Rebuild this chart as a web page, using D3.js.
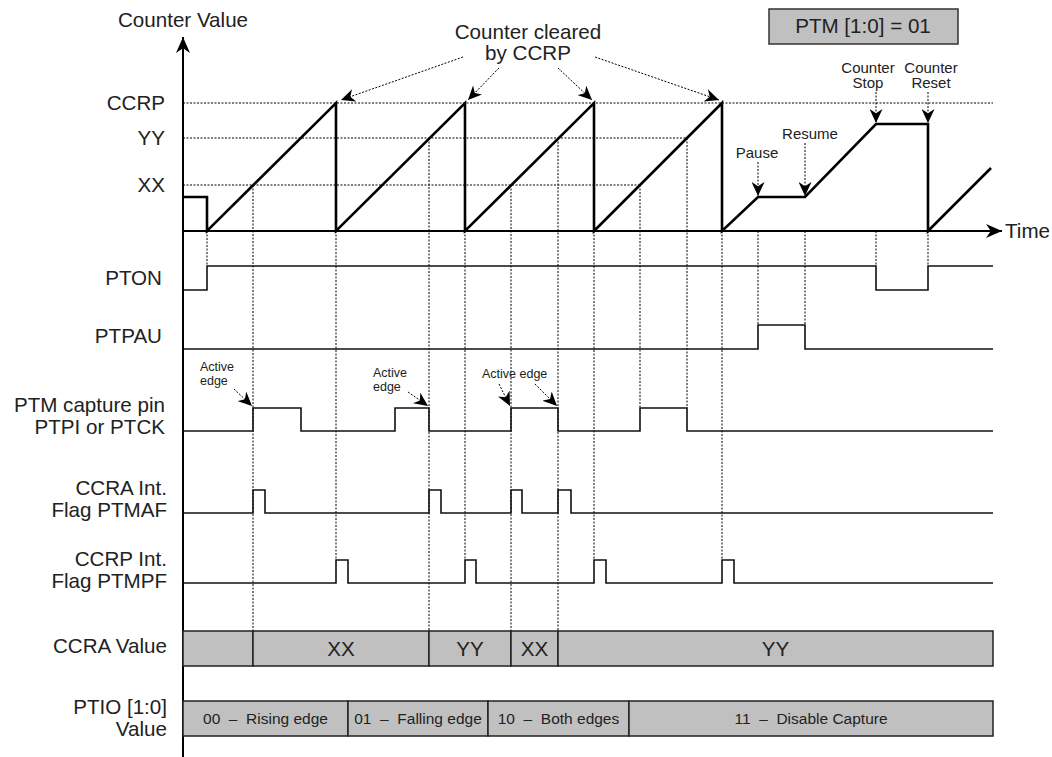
<!DOCTYPE html>
<html>
<head>
<meta charset="utf-8">
<script src="https://cdn.jsdelivr.net/npm/d3@7"></script>
<style>
  body { margin: 0; background: #fff; }
  text { font-family: "Liberation Sans", Arial, sans-serif; fill: #222; }
</style>
</head>
<body>
<script>
(function () {
    // Counter value over time: [time, count]
    var counterPoints = [[0, 34], [24, 34], [24, 0], [153, 128], [153, 0], [282, 128], [282, 0],
        [411, 128], [411, 0], [539, 128], [539, 0], [575, 34], [622, 34], [693, 107], [745, 107],
        [745, 0], [808, 63]];

    // Reference levels on the counter axis
    var levelNames = ['CCRP', 'YY', 'XX'];
    var levelValues = [128, 93, 46];
    var levelEnds = [810, 504, 457]; // time where each dotted level line stops

    // Digital signals as [time, level] steps
    var ptonSteps = [[0, 0], [24, 1], [693, 0], [745, 1], [810, 1]];
    var ptpauSteps = [[0, 0], [575, 1], [622, 0], [810, 0]];
    var captureSteps = [[0, 0], [70, 1], [118, 0], [212, 1], [246, 0], [328, 1], [375, 0],
        [457, 1], [504, 0], [810, 0]];
    var ptmafSteps = [[0, 0], [70, 1], [82, 0], [246, 1], [258, 0], [328, 1], [339, 0],
        [375, 1], [388, 0], [810, 0]];
    var ptmpfSteps = [[0, 0], [153, 1], [165, 0], [282, 1], [293, 0], [411, 1], [423, 0],
        [539, 1], [551, 0], [810, 0]];

    // Bus values
    var ccraEdges = [0, 70, 246, 328, 375, 810];
    var ccraLabels = ['', 'XX', 'YY', 'XX', 'YY'];
    var ptioEdges = [0, 165, 305, 446, 810];
    var ptioLabels = ['00  \u2013  Rising edge', '01  \u2013  Falling edge',
        '10  \u2013  Both edges', '11  \u2013  Disable Capture'];

    // Times where the counter is cleared by CCRP
    var clearTimes = [153, 282, 411, 539];

    // Dotted guide lines: time, counter value they start from, row they go down to
    var guideTimes = [24, 70, 153, 246, 282, 328, 375, 411, 457, 504, 539, 575, 622, 693, 745];
    var guideFrom = [0, 46, 0, 93, 0, 46, 93, 0, 46, 93, 0, 0, 0, 0, 0];
    var guideTo = ['pton', 'ccra', 'ptmpf', 'ccra', 'ptmpf', 'ccra', 'ccra', 'ptmpf',
        'capture', 'capture', 'ptmpf', 'ptpau', 'ptpau', 'pton', 'pton'];

    // Counter events
    var eventTimes = [575, 622, 693, 745];
    var eventValues = [34, 34, 107, 107];
    var eventLabels = [['Pause'], ['Resume'], ['Counter', 'Stop'], ['Counter', 'Reset']];

    // Layout
    var width = 1052, height = 757;
    var rows = {
        pton: { hi: 266, lo: 290 },
        ptpau: { hi: 325, lo: 349 },
        capture: { hi: 408, lo: 431 },
        ptmaf: { hi: 490, lo: 513 },
        ptmpf: { hi: 560, lo: 583 },
        ccra: { hi: 631, lo: 666 },
        ptio: { hi: 701, lo: 736 }
    };
    var bigFont = 20.6;

    var x = d3.scaleLinear().domain([0, 810]).range([183, 993]);
    var yCount = d3.scaleLinear().domain([0, 128]).range([231, 103]);

    var svg = d3.select('body').append('svg')
        .attr('width', width)
        .attr('height', height);

    // Arrow heads
    var defs = svg.append('defs');
    function addMarker(id, len, half) {
        defs.append('marker')
            .attr('id', id)
            .attr('viewBox', (-len) + ' ' + (-half) + ' ' + len + ' ' + (half * 2))
            .attr('refX', 0).attr('refY', 0)
            .attr('markerWidth', len).attr('markerHeight', half * 2)
            .attr('markerUnits', 'userSpaceOnUse')
            .attr('orient', 'auto')
            .append('path')
            .attr('d', 'M0,0 L' + (-len) + ',' + (-half) + ' L' + (-len * 0.7) + ',0 L' + (-len) + ',' + half + ' Z')
            .attr('fill', '#000');
    }
    addMarker('bigArrow', 16, 7);
    addMarker('arrow', 14, 6.5);

    var dotted = '2,1.5';

    // Horizontal level lines + labels
    levelValues.forEach(function (v, i) {
        svg.append('line')
            .attr('x1', x(0)).attr('x2', x(levelEnds[i]))
            .attr('y1', yCount(v)).attr('y2', yCount(v))
            .attr('stroke', '#000').attr('stroke-width', 1)
            .attr('stroke-dasharray', dotted);
        svg.append('text')
            .attr('x', 165).attr('y', yCount(v) + 7)
            .attr('text-anchor', 'end')
            .style('font-size', bigFont + 'px')
            .text(levelNames[i]);
    });

    // Vertical guides
    guideTimes.forEach(function (t, i) {
        svg.append('line')
            .attr('x1', x(t)).attr('x2', x(t))
            .attr('y1', yCount(guideFrom[i])).attr('y2', rows[guideTo[i]].hi)
            .attr('stroke', '#000').attr('stroke-width', 1)
            .attr('stroke-dasharray', dotted);
    });

    // Axes
    svg.append('line')
        .attr('x1', x(0)).attr('x2', x(0))
        .attr('y1', height).attr('y2', 37)
        .attr('stroke', '#000').attr('stroke-width', 2)
        .attr('marker-end', 'url(#bigArrow)');
    svg.append('line')
        .attr('x1', x(0)).attr('x2', 1002)
        .attr('y1', yCount(0)).attr('y2', yCount(0))
        .attr('stroke', '#000').attr('stroke-width', 2)
        .attr('marker-end', 'url(#bigArrow)');
    svg.append('text')
        .attr('x', x(0)).attr('y', 27)
        .attr('text-anchor', 'middle')
        .style('font-size', bigFont + 'px')
        .text('Counter Value');
    svg.append('text')
        .attr('x', 1005).attr('y', 238)
        .style('font-size', bigFont + 'px')
        .text('Time');

    // Counter waveform
    var counterLine = d3.line()
        .x(function (d) { return x(d[0]); })
        .y(function (d) { return yCount(d[1]); });
    svg.append('path')
        .datum(counterPoints)
        .attr('d', counterLine)
        .attr('fill', 'none')
        .attr('stroke', '#000')
        .attr('stroke-width', 2.6)
        .attr('stroke-linejoin', 'miter');

    // "Counter cleared by CCRP" annotation
    var clearText = svg.append('text')
        .attr('text-anchor', 'middle')
        .style('font-size', bigFont + 'px');
    clearText.append('tspan').attr('x', 528).attr('y', 39).text('Counter cleared');
    clearText.append('tspan').attr('x', 528).attr('y', 60).text('by CCRP');
    var clearStarts = [[463, 57], [499, 68], [558, 68], [595, 57]];
    var clearOffsets = [5, 3, -2, -3];
    clearTimes.forEach(function (t, i) {
        svg.append('line')
            .attr('x1', clearStarts[i][0]).attr('y1', clearStarts[i][1])
            .attr('x2', x(t) + clearOffsets[i]).attr('y2', yCount(128) - 3)
            .attr('stroke', '#000').attr('stroke-width', 1)
            .attr('stroke-dasharray', dotted)
            .attr('marker-end', 'url(#arrow)');
    });

    // Pause / Resume / Stop / Reset annotations
    var eventTextX = [757, 810, 868, 931];
    var eventTextY = [158, 139, 73, 73];
    eventTimes.forEach(function (t, i) {
        var lines = eventLabels[i];
        var txt = svg.append('text')
            .attr('text-anchor', 'middle')
            .style('font-size', '15px');
        lines.forEach(function (l, j) {
            txt.append('tspan')
                .attr('x', eventTextX[i])
                .attr('y', eventTextY[i] + j * 15)
                .text(l);
        });
        var top = eventTextY[i] + (lines.length - 1) * 15 + 4;
        svg.append('line')
            .attr('x1', x(t)).attr('x2', x(t))
            .attr('y1', top).attr('y2', yCount(eventValues[i]) - 1)
            .attr('stroke', '#000').attr('stroke-width', 1)
            .attr('stroke-dasharray', dotted)
            .attr('marker-end', 'url(#arrow)');
    });

    // PTM mode box
    svg.append('rect')
        .attr('x', 769).attr('y', 9)
        .attr('width', 189).attr('height', 35)
        .attr('fill', '#c0c0c0')
        .attr('stroke', '#333').attr('stroke-width', 1.5);
    svg.append('text')
        .attr('x', 863).attr('y', 33)
        .attr('text-anchor', 'middle')
        .style('font-size', bigFont + 'px')
        .text('PTM [1:0] = 01');

    // Digital signals
    function drawSignal(steps, row) {
        var r = rows[row];
        var line = d3.line()
            .curve(d3.curveStepAfter)
            .x(function (d) { return x(d[0]); })
            .y(function (d) { return d[1] ? r.hi : r.lo; });
        svg.append('path')
            .datum(steps)
            .attr('d', line)
            .attr('fill', 'none')
            .attr('stroke', '#111')
            .attr('stroke-width', 1.6);
    }
    drawSignal(ptonSteps, 'pton');
    drawSignal(ptpauSteps, 'ptpau');
    drawSignal(captureSteps, 'capture');
    drawSignal(ptmafSteps, 'ptmaf');
    drawSignal(ptmpfSteps, 'ptmpf');

    // Active edge annotations
    var activeText = [
        { x: 200, y: 371, lines: ['Active', 'edge'] },
        { x: 373, y: 377, lines: ['Active', 'edge'] },
        { x: 482, y: 378, lines: ['Active edge'] }
    ];
    activeText.forEach(function (a) {
        var txt = svg.append('text').style('font-size', '12.5px');
        a.lines.forEach(function (l, j) {
            txt.append('tspan').attr('x', a.x).attr('y', a.y + j * 14).text(l);
        });
    });
    var activeTimes = [70, 246, 328, 375];
    var activeStarts = [[234, 389], [408, 392], [499, 384], [535, 384]];
    activeTimes.forEach(function (t, i) {
        svg.append('line')
            .attr('x1', activeStarts[i][0]).attr('y1', activeStarts[i][1])
            .attr('x2', x(t) - 1).attr('y2', rows.capture.hi - 2)
            .attr('stroke', '#000').attr('stroke-width', 1)
            .attr('stroke-dasharray', dotted)
            .attr('marker-end', 'url(#arrow)');
    });

    // Bus rows
    function drawBus(edges, labels, row, size) {
        var r = rows[row];
        var g = svg.append('g');
        g.selectAll('rect')
            .data(labels)
            .enter()
            .append('rect')
            .attr('x', function (d, i) { return x(edges[i]); })
            .attr('y', r.hi)
            .attr('width', function (d, i) { return x(edges[i + 1]) - x(edges[i]); })
            .attr('height', r.lo - r.hi)
            .attr('fill', '#c0c0c0')
            .attr('stroke', '#222')
            .attr('stroke-width', 1.5);
        g.selectAll('text')
            .data(labels)
            .enter()
            .append('text')
            .attr('x', function (d, i) { return (x(edges[i]) + x(edges[i + 1])) / 2; })
            .attr('y', (r.hi + r.lo) / 2 + size * 0.36)
            .attr('text-anchor', 'middle')
            .style('font-size', size + 'px')
            .style('white-space', 'pre')
            .text(function (d) { return d; });
    }
    drawBus(ccraEdges, ccraLabels, 'ccra', bigFont);
    drawBus(ptioEdges, ptioLabels, 'ptio', 15.5);

    // Row labels
    var rowLabels = [
        { lines: ['PTON'], x: 162, y: 285 },
        { lines: ['PTPAU'], x: 162, y: 343 },
        { lines: ['PTM capture pin', 'PTPI or PTCK'], x: 165, y: 412 },
        { lines: ['CCRA Int.', 'Flag PTMAF'], x: 167, y: 495 },
        { lines: ['CCRP Int.', 'Flag PTMPF'], x: 167, y: 566 },
        { lines: ['CCRA Value'], x: 167, y: 653 },
        { lines: ['PTIO [1:0]', 'Value'], x: 167, y: 714 }
    ];
    rowLabels.forEach(function (r) {
        var txt = svg.append('text')
            .attr('text-anchor', 'end')
            .style('font-size', bigFont + 'px');
        r.lines.forEach(function (l, j) {
            txt.append('tspan').attr('x', r.x).attr('y', r.y + j * 22).text(l);
        });
    });
})();
</script>
</body>
</html>
